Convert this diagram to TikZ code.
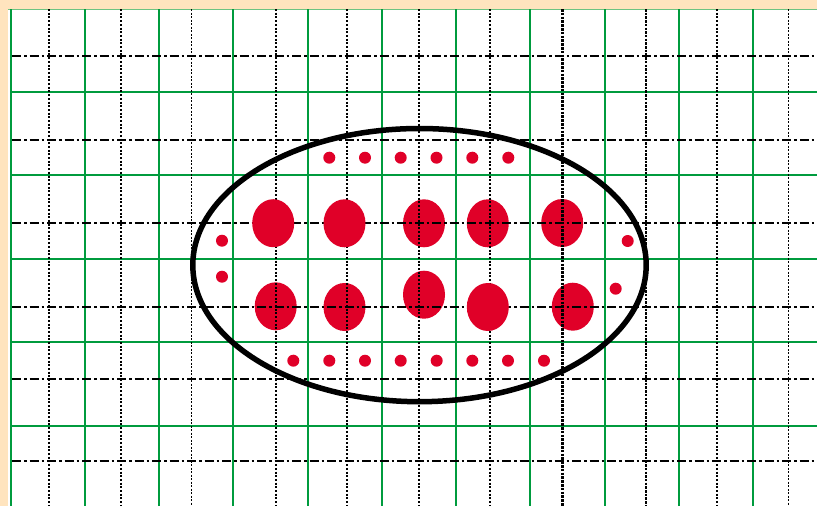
\documentclass[tikz,border=0pt]{standalone}
\definecolor{paper}{RGB}{255,228,190}
\definecolor{gridgreen}{RGB}{0,155,62}
\definecolor{lightgreen}{RGB}{110,195,130}
\definecolor{blobred}{RGB}{224,0,40}
\begin{document}
\begin{tikzpicture}[x=1pt,y=-1pt,
  grn/.style={draw=gridgreen, line width=2pt},
  dotv/.style={draw=black, line width=2pt, dash pattern=on 2pt off 1.7pt},
  thinv/.style={draw=black, line width=1.1pt, dash pattern=on 2.2pt off 1.3pt},
  medv/.style={draw=black, line width=1.6pt, dash pattern=on 2.5pt off 1.2pt},
  thickv/.style={draw=black, line width=3pt, dash pattern=on 2.6pt off 1.2pt},
  dashdot/.style={draw=black, line width=2.3pt, dash pattern=on 9pt off 3pt on 2.5pt off 3pt},
  blob/.style={fill=blobred},
  ring/.style={draw=black, line width=5.5pt}]
\useasboundingbox (0,0) rectangle (817,506);
\fill[paper] (0,0) rectangle (817,506);
\fill[white] (8,9) rectangle (817,506);
% edge lines
\draw[lightgreen, line width=1pt] (8,9.5) -- (817,9.5);
\draw[grn] (10.5,9) -- (10.5,506);
% green grid
\foreach \gx in {85,159,232.7,308,382,455.7,529.7,604.7,678.7,752.7}
  \draw[grn] (\gx,9) -- (\gx,506);
\foreach \gy in {91.7,175.2,258.7,342.2,425.7}
  \draw[grn] (10,\gy) -- (817,\gy);
% blobs below the lines
\foreach \bx/\by in {275.7/306.3, 344.5/307, 424/223.3, 487.8/223.3, 424/294.7, 562.2/223, 572.8/306.7}
  \fill[blob] (\bx,\by) ellipse [x radius=21pt, y radius=24pt];
% dotted verticals
\foreach \vx in {49,120.7,276,347,419,490,716.7}
  \draw[dotv] (\vx,9) -- (\vx,506);
\draw[thinv] (191.7,9) -- (191.7,506);
\draw[thinv] (788.3,9) -- (788.3,506);
\draw[medv] (646,9) -- (646,506);
\draw[thickv] (562.3,9) -- (562.3,506);
% dash-dot horizontals
\foreach \hy in {55.7,139.7,222.7,306.7,379,461.3}
  \draw[dashdot] (12,\hy) -- (817,\hy);
% blobs above the lines
\foreach \bx/\by in {273.2/223.2, 344.5/223.3, 487.8/307}
  \fill[blob] (\bx,\by) ellipse [x radius=21pt, y radius=24pt];
% small dots
\foreach \dx in {329.3,365,400.7,436.5,472.3,508.3}
  \fill[blob] (\dx,157.7) circle [radius=6pt];
\foreach \dx in {293.3,329.3,365,400.7,436.7,472.3,508,544}
  \fill[blob] (\dx,360.7) circle [radius=6pt];
\fill[blob] (222,240.7) circle [radius=6pt];
\fill[blob] (222,276.7) circle [radius=6pt];
\fill[blob] (627.7,241) circle [radius=6pt];
\fill[blob] (615.7,288.7) circle [radius=6pt];
% big ring
\draw[ring] (419.5,265.1) ellipse [x radius=226.7pt, y radius=136.6pt];
\end{tikzpicture}
\end{document}
